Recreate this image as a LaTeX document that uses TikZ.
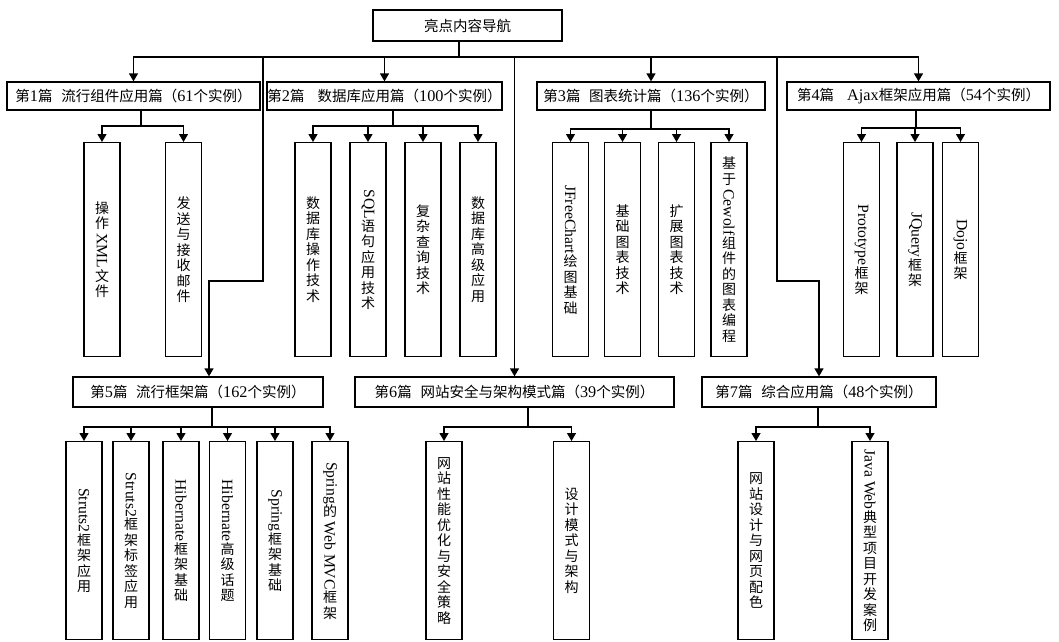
\documentclass[tikz,border=0pt]{standalone}
\usepackage{fontspec}
\usepackage{graphicx}
\usetikzlibrary{arrows.meta}
\setmainfont{Liberation Serif}[Scale=1.12]
\newfontfamily\cjk{Noto Sans CJK SC}
\newXeTeXintercharclass\cjkclass
\newcount\cjkcnt
\cjkcnt="4E00
\loop
  \XeTeXcharclass\cjkcnt=\cjkclass
  \ifnum\cjkcnt<"9FFF \advance\cjkcnt by 1
\repeat
\XeTeXcharclass"FF08=\cjkclass
\XeTeXcharclass"FF09=\cjkclass
\XeTeXinterchartoks 0 \cjkclass = {\cjk}
\XeTeXinterchartoks 4095 \cjkclass = {\cjk}
\XeTeXinterchartoks \cjkclass 0 = {\rmfamily}
\XeTeXinterchartoks 4095 0 = {\rmfamily}
\XeTeXinterchartokenstate=1
\newcommand{\vlat}[1]{\raisebox{10.5pt}{\rotatebox{-90}{#1}}}

\begin{document}
\begin{tikzpicture}[x=1pt, y=-1pt, line width=1.3pt, >={Triangle[length=8pt,width=9pt]}]
    \tikzstyle{hub}=[draw, inner sep=0pt, font=\fontsize{14.5}{17}\selectfont]
    \tikzstyle{leaf}=[draw, anchor=north, align=center, minimum width=36pt, inner sep=0pt, font=\fontsize{14}{15.5}\selectfont]
    \useasboundingbox (0,0) rectangle (1059,641);

    \node[hub, minimum width=189pt, minimum height=31pt] (root) at (467.5,25.5) {亮点内容导航};
    \node[hub, minimum width=253pt, minimum height=28pt] (p1) at (133.5,96) {第1篇\hspace{0.6em}流行组件应用篇（61个实例）};
    \node[hub, minimum width=235pt, minimum height=28pt] (p2) at (384.5,96) {第2篇\hspace{0.9em}数据库应用篇（100个实例）};
    \node[hub, minimum width=228pt, minimum height=28pt] (p3) at (651,96) {第3篇\hspace{0.6em}图表统计篇（136个实例）};
    \node[hub, minimum width=263pt, minimum height=28pt] (p4) at (918.5,96) {第4篇\hspace{0.9em}Ajax框架应用篇（54个实例）};
    \node[hub, minimum width=250pt, minimum height=30pt] (p5) at (198,392) {第5篇\hspace{0.6em}流行框架篇（162个实例）};
    \node[hub, minimum width=319pt, minimum height=30pt] (p6) at (514.5,392) {第6篇\hspace{0.6em}网站安全与架构模式篇（39个实例）};
    \node[hub, minimum width=234pt, minimum height=30pt] (p7) at (819,392) {第7篇\hspace{0.6em}综合应用篇（48个实例）};

    \coordinate (s0) at (459,57);
    \coordinate (k5) at (263,281);
    \coordinate (k7) at (777,281);
    \draw (root.south -| s0) -- (s0);
    \foreach \n in {p1,p2,p3,p4,p6}
        \draw[->] (s0) -| (\n);
    \draw[->] (s0) -| (k5) -| ([xshift=11pt]p5.north);
    \draw[->] (s0) -| (k7) -| (p7);

    \foreach \n/\x/\y in {p1/141/126, p2/393/126, p3/651/129, p4/916/128, p5/212/427, p6/528/427, p7/818/427} {
        \coordinate (s\n) at (\x,\y);
        \draw (\n.south -| s\n) -- (s\n);
    }

    \foreach \g/\x/\t [count=\i] in {
        p1/102/{操\\作\\\vlat{XML}\\文\\件},
        p1/183.5/{发\\送\\与\\接\\收\\邮\\件},
        p2/313/{数\\据\\库\\操\\作\\技\\术},
        p2/368/{\vlat{SQL}\\语\\句\\应\\用\\技\\术},
        p2/423/{复\\杂\\查\\询\\技\\术},
        p2/478/{数\\据\\库\\高\\级\\应\\用},
        p3/570.5/{\vlat{JFreeChart}\\绘\\图\\基\\础},
        p3/622.5/{基\\础\\图\\表\\技\\术},
        p3/676.5/{扩\\展\\图\\表\\技\\术},
        p3/729/{基\\于\\\vlat{Cewolf}\\组\\件\\的\\图\\表\\编\\程},
        p4/861.5/{\vlat{Prototype}\\框\\架},
        p4/915/{\vlat{JQuery}\\框\\架},
        p4/960.5/{\vlat{Dojo}\\框\\架}} {
        \node[leaf, minimum height=214pt] (u\i) at (\x,142) {\t};
        \draw[->] (s\g) -| (u\i);
    }

    \foreach \g/\x/\t [count=\i] in {
        p5/84/{\vlat{Struts2}\\框\\架\\应\\用},
        p5/131/{\vlat{Struts2}\\框\\架\\标\\签\\应\\用},
        p5/181/{\vlat{Hibernate}\\框\\架\\基\\础},
        p5/227.5/{\vlat{Hibernate}\\高\\级\\话\\题},
        p5/275/{\vlat{Spring}\\框\\架\\基\\础},
        p5/330/{\vlat{Spring}\\的\\\vlat{Web MVC}\\框\\架},
        p6/444/{网\\站\\性\\能\\优\\化\\与\\安\\全\\策\\略},
        p6/571.5/{设\\计\\模\\式\\与\\架\\构},
        p7/756/{网\\站\\设\\计\\与\\网\\页\\配\\色},
        p7/870/{\vlat{Java Web}\\典\\型\\项\\目\\开\\发\\案\\例}} {
        \node[leaf, minimum height=198pt] (v\i) at (\x,441) {\t};
        \draw[->] (s\g) -| (v\i);
    }
\end{tikzpicture}
\end{document}
